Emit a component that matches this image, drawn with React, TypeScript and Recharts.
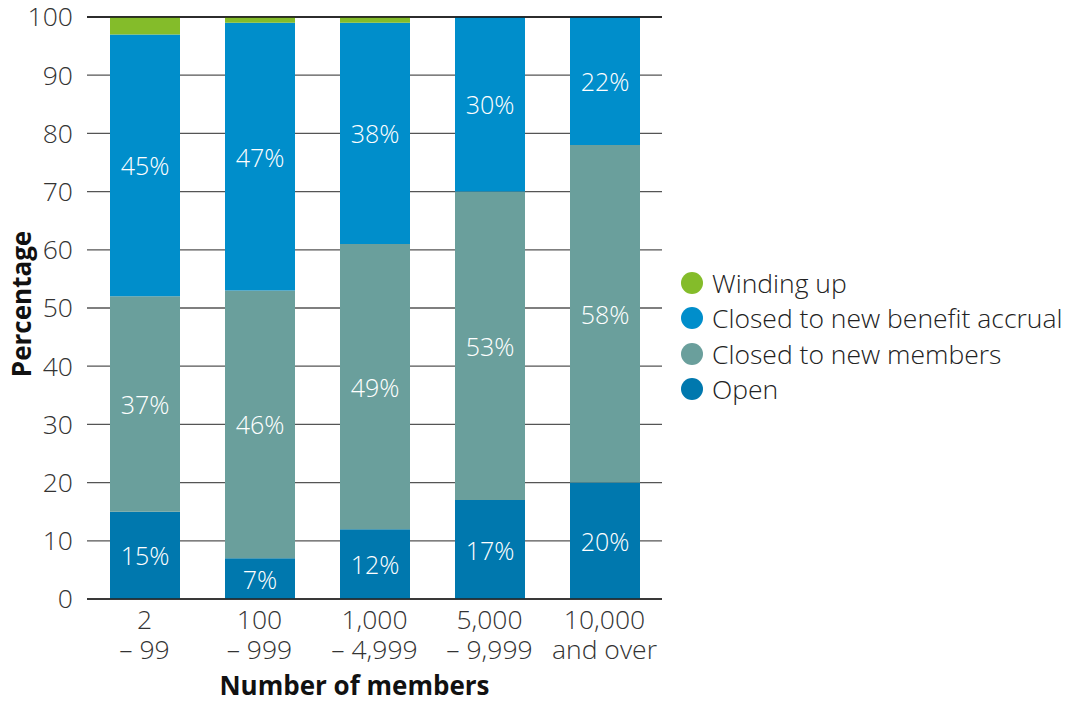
import { BarChart, Bar, XAxis, YAxis, CartesianGrid, LabelList, ReferenceLine } from "recharts";

const categories = ["2\n– 99", "100\n– 999", "1,000\n– 4,999", "5,000\n– 9,999", "10,000\nand over"];
const openVals = [15, 7, 12, 17, 20];
const closedMembersVals = [37, 46, 49, 53, 58];
const closedAccrualVals = [45, 46, 38, 30, 22];
const windingVals = [3, 1, 1, 0, 0];

const openLabels = ["15%", "7%", "12%", "17%", "20%"];
const closedMembersLabels = ["37%", "46%", "49%", "53%", "58%"];
const closedAccrualLabels = ["45%", "47%", "38%", "30%", "22%"];

const yTicks = [0, 10, 20, 30, 40, 50, 60, 70, 80, 90, 100];

const series = [
  { key: "winding", name: "Winding up", color: "#84BC2A" },
  { key: "accrual", name: "Closed to new benefit accrual", color: "#008ECB" },
  { key: "members", name: "Closed to new members", color: "#6A9F9C" },
  { key: "open", name: "Open", color: "#0078AE" },
];

const data = categories.map((c, i) => ({
  name: c,
  open: openVals[i],
  members: closedMembersVals[i],
  accrual: closedAccrualVals[i],
  winding: windingVals[i],
}));

const FONT = "'Open Sans', sans-serif";

function CategoryTick(props: any) {
  const { x, y, payload } = props;
  const lines = String(payload.value).split("\n");
  return (
    <text x={x} y={y} textAnchor="middle" fill="#333" fontSize={26.5} fontWeight={300} fontFamily={FONT}>
      {lines.map((l, i) => (
        <tspan key={i} x={x} dy={i === 0 ? 22 : 30}>{l}</tspan>
      ))}
    </text>
  );
}

function makeLabel(labels: string[]) {
  return (props: any) => {
    const { x, y, width, height, index } = props;
    return (
      <text
        x={x + width / 2}
        y={y + height / 2}
        textAnchor="middle"
        dominantBaseline="central"
        fill="#fff"
        fontSize={25}
        fontWeight={300}
        fontFamily={FONT}
      >
        {labels[index]}
      </text>
    );
  };
}

function LegendBox() {
  return (
    <div style={{ position: "absolute", left: 681, top: 265, fontFamily: FONT, fontSize: 26.5, fontWeight: 300, color: "#222" }}>
      {series.map((s) => (
        <div key={s.key} style={{ display: "flex", alignItems: "center", height: 35.5, whiteSpace: "nowrap" }}>
          <span style={{ width: 22, height: 22, borderRadius: 11, background: s.color, display: "inline-block", marginRight: 9 }} />
          <span>{s.name}</span>
        </div>
      ))}
    </div>
  );
}

export default function App() {
  return (
    <div style={{ position: "absolute", left: 0, top: 0, width: 1085, height: 701, background: "#fff" }}>
      <BarChart width={1085} height={701} data={data} margin={{ top: 17, right: 423, bottom: 0, left: 0 }} barSize={70}>
        <CartesianGrid vertical={false} stroke="#555" strokeWidth={1.3} />
        <XAxis
          dataKey="name"
          height={102}
          axisLine={{ stroke: "#222", strokeWidth: 1.5 }}
          tickLine={false}
          tick={<CategoryTick />}
          interval={0}
          label={{ value: "Number of members", position: "insideBottom", dx: -20, dy: -1, fill: "#111", fontSize: 26, fontWeight: 700, fontFamily: FONT }}
        />
        <YAxis
          width={87}
          domain={[0, 100]}
          ticks={yTicks}
          axisLine={false}
          tickLine={false}
          tickMargin={8}
          tick={{ fill: "#333", fontSize: 26.5, fontWeight: 300, fontFamily: FONT }}
          label={{ value: "Percentage", angle: -90, position: "insideLeft", dx: 17, dy: -4, fill: "#111", fontSize: 26, fontWeight: 700, fontFamily: FONT, style: { textAnchor: "middle" } }}
        />
        <ReferenceLine y={100} stroke="#111" strokeWidth={1.5} />
        <Bar dataKey="open" stackId="a" fill="#0078AE" isAnimationActive={false}>
          <LabelList dataKey="open" content={makeLabel(openLabels)} />
        </Bar>
        <Bar dataKey="members" stackId="a" fill="#6A9F9C" isAnimationActive={false}>
          <LabelList dataKey="members" content={makeLabel(closedMembersLabels)} />
        </Bar>
        <Bar dataKey="accrual" stackId="a" fill="#008ECB" isAnimationActive={false}>
          <LabelList dataKey="accrual" content={makeLabel(closedAccrualLabels)} />
        </Bar>
        <Bar dataKey="winding" stackId="a" fill="#84BC2A" isAnimationActive={false} />
      </BarChart>
      <LegendBox />
    </div>
  );
}
